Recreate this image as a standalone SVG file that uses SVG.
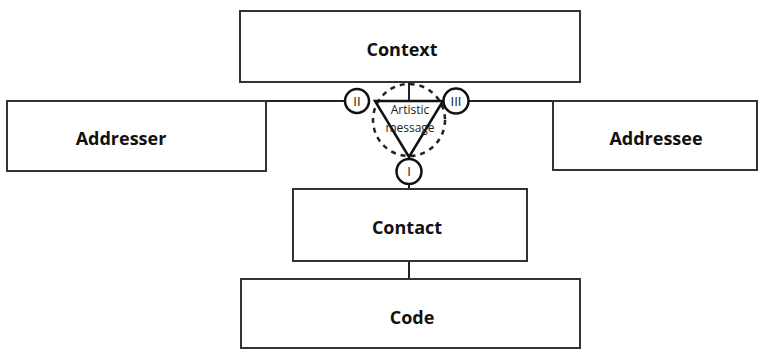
<svg xmlns="http://www.w3.org/2000/svg" width="760" height="350" viewBox="0 0 760 350">
  <style>
    .box { fill: #ffffff; stroke: #333333; stroke-width: 2; }
    .lbl { font-family: "Open Sans", "Noto Sans", "Liberation Sans", sans-serif; font-weight: bold; font-size: 18px; fill: #111111; text-anchor: middle; }
    .small { font-family: "Open Sans", "Noto Sans", "Liberation Sans", sans-serif; font-size: 12px; fill: #222222; text-anchor: middle; }
    .num { font-family: "Open Sans", "Noto Sans", "Liberation Sans", sans-serif; font-size: 13px; fill: #111111; text-anchor: middle; }
    .wire { fill: none; stroke: #222222; stroke-width: 2; }
    .ring { fill: #ffffff; stroke: #111111; stroke-width: 2.5; }
  </style>
  <rect width="760" height="350" fill="#ffffff"/>

  <g id="connectors">
    <line class="wire" x1="266" y1="101" x2="345" y2="101"/>
    <line class="wire" x1="469" y1="101" x2="553" y2="101"/>
    <line class="wire" x1="409" y1="82" x2="409" y2="101"/>
    <line class="wire" x1="409" y1="184" x2="409" y2="189"/>
    <line class="wire" x1="409" y1="261" x2="409" y2="279"/>
  </g>

  <g id="context">
    <rect class="box" x="240" y="11" width="340" height="71"/>
    <text class="lbl" x="402" y="56">Context</text>
  </g>

  <g id="addresser">
    <rect class="box" x="7" y="101" width="259" height="70"/>
    <text class="lbl" x="121" y="145">Addresser</text>
  </g>

  <g id="addressee">
    <rect class="box" x="553" y="101" width="204" height="69"/>
    <text class="lbl" x="656" y="145">Addressee</text>
  </g>

  <g id="contact">
    <rect class="box" x="293" y="189" width="234" height="72"/>
    <text class="lbl" x="407" y="234">Contact</text>
  </g>

  <g id="code">
    <rect class="box" x="241" y="279" width="339" height="69"/>
    <text class="lbl" x="412" y="324">Code</text>
  </g>

  <g id="artistic-message">
    <circle cx="409" cy="120" r="36" fill="none" stroke="#222222" stroke-width="2.5" stroke-dasharray="5 5"/>
    <polygon points="375,101 443,101 409,157" fill="none" stroke="#111111" stroke-width="2.5" stroke-linejoin="miter"/>
    <text class="small" x="410" y="114">Artistic</text>
    <text class="small" x="410" y="132">message</text>
  </g>

  <g id="node-II">
    <circle class="ring" cx="357" cy="101" r="12"/>
    <text class="num" x="357" y="105.5">II</text>
  </g>

  <g id="node-III">
    <circle class="ring" cx="456" cy="101" r="12.5"/>
    <text class="num" x="456" y="105.5">III</text>
  </g>

  <g id="node-I">
    <circle class="ring" cx="409" cy="171.5" r="12.5"/>
    <text class="num" x="409" y="176">I</text>
  </g>
</svg>
